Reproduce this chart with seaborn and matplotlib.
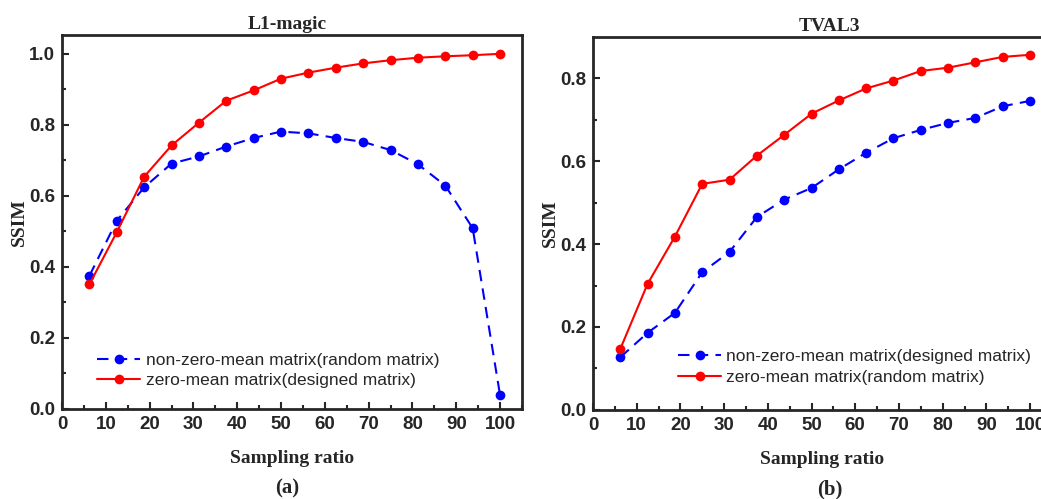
import numpy as np
import pandas as pd
import matplotlib
matplotlib.use("Agg")
import matplotlib.pyplot as plt
from matplotlib.ticker import MultipleLocator
import seaborn as sns

# ---------------- data ----------------
ratio = [6.25, 12.5, 18.75, 25, 31.25, 37.5, 43.75, 50, 56.25, 62.5,
         68.75, 75, 81.25, 87.5, 93.75, 100]

l1_nonzero = [0.375, 0.530, 0.624, 0.691, 0.711, 0.739, 0.763, 0.781,
              0.776, 0.763, 0.752, 0.729, 0.689, 0.629, 0.509, 0.039]
l1_zero = [0.351, 0.498, 0.654, 0.742, 0.806, 0.868, 0.897, 0.930,
           0.947, 0.961, 0.973, 0.982, 0.989, 0.993, 0.996, 1.000]

tv_nonzero = [0.127, 0.186, 0.234, 0.332, 0.381, 0.465, 0.507, 0.535,
              0.580, 0.620, 0.655, 0.675, 0.692, 0.704, 0.732, 0.745]
tv_zero = [0.147, 0.304, 0.418, 0.545, 0.555, 0.613, 0.663, 0.714,
           0.746, 0.775, 0.794, 0.817, 0.825, 0.838, 0.851, 0.856]

l1_labels = ["non-zero-mean matrix(random matrix)",
             "zero-mean matrix(designed matrix)"]
tv_labels = ["non-zero-mean matrix(designed matrix)",
             "zero-mean matrix(random matrix)"]

titles = ["L1-magic", "TVAL3"]
panel_tags = ["(a)", "(b)"]
x_label = "Sampling ratio"
y_label = "SSIM"

# ---------------- style ----------------
sns.set_style("ticks")
plt.rcParams["font.family"] = ["Liberation Sans", "DejaVu Sans"]

SERIF = ["Liberation Serif", "DejaVu Serif"]
SANS = ["Liberation Sans", "DejaVu Sans"]

fig = plt.figure(figsize=(10.41, 4.99), dpi=100)
ax1 = fig.add_axes([0.0596, 0.1804, 0.4418, 0.7495])
ax2 = fig.add_axes([0.5696, 0.1784, 0.4409, 0.7475])


def draw(ax, nonzero, zero, labels, ylim, ymajor, leg_anchor, title, tag, title_x):
    df = pd.DataFrame({
        "ratio": ratio * 2,
        "ssim": nonzero + zero,
        "series": [labels[0]] * len(ratio) + [labels[1]] * len(ratio),
    })
    sns.lineplot(data=df, x="ratio", y="ssim", hue="series", style="series",
                 hue_order=labels, style_order=labels,
                 palette={labels[0]: "#0000FF", labels[1]: "#FF0000"},
                 dashes={labels[0]: (5.5, 3.5), labels[1]: ""},
                 markers={labels[0]: "o", labels[1]: "o"},
                 markersize=7, markeredgewidth=0, linewidth=1.5,
                 ax=ax)
    ax.set_xlim(0, 105)
    ax.set_ylim(*ylim)
    ax.xaxis.set_major_locator(MultipleLocator(10))
    ax.xaxis.set_minor_locator(MultipleLocator(5))
    ax.yaxis.set_major_locator(MultipleLocator(ymajor))
    ax.yaxis.set_minor_locator(MultipleLocator(ymajor / 2))
    ax.tick_params(which="major", direction="in", length=5, width=1.5,
                   labelsize=13.5, pad=5)
    ax.tick_params(which="minor", direction="in", length=3, width=1.5)
    for lab in ax.get_xticklabels() + ax.get_yticklabels():
        lab.set_fontweight("bold")
        lab.set_family(SANS)
    ax.yaxis.set_major_formatter(matplotlib.ticker.FormatStrFormatter("%.1f"))
    for s in ax.spines.values():
        s.set_linewidth(2)
        s.set_visible(True)
    ax.set_xlabel(x_label, fontsize=14, fontweight="bold", family=SERIF, labelpad=12)
    ax.set_ylabel(y_label, fontsize=14, fontweight="bold", family=SERIF, labelpad=1)
    ax.set_title(title, fontsize=14, fontweight="bold", family=SERIF, pad=4, x=title_x)
    ax.text(title_x, -0.186, tag, transform=ax.transAxes, ha="center", va="top",
            fontsize=15, fontweight="bold", family=SERIF)
    sns.move_legend(ax, "lower left", bbox_to_anchor=leg_anchor, title=None,
                    frameon=False, fontsize=12.5, handlelength=2.5,
                    handletextpad=0.3, labelspacing=0.3, borderpad=0,
                    borderaxespad=0)


draw(ax1, l1_nonzero, l1_zero, l1_labels, (0, 1.053), 0.2, (0.076, 0.056),
     titles[0], panel_tags[0], 0.49)
draw(ax2, tv_nonzero, tv_zero, tv_labels, (0, 0.899), 0.2, (0.185, 0.068),
     titles[1], panel_tags[1], 0.516)

fig.savefig("out.png", dpi=100)
